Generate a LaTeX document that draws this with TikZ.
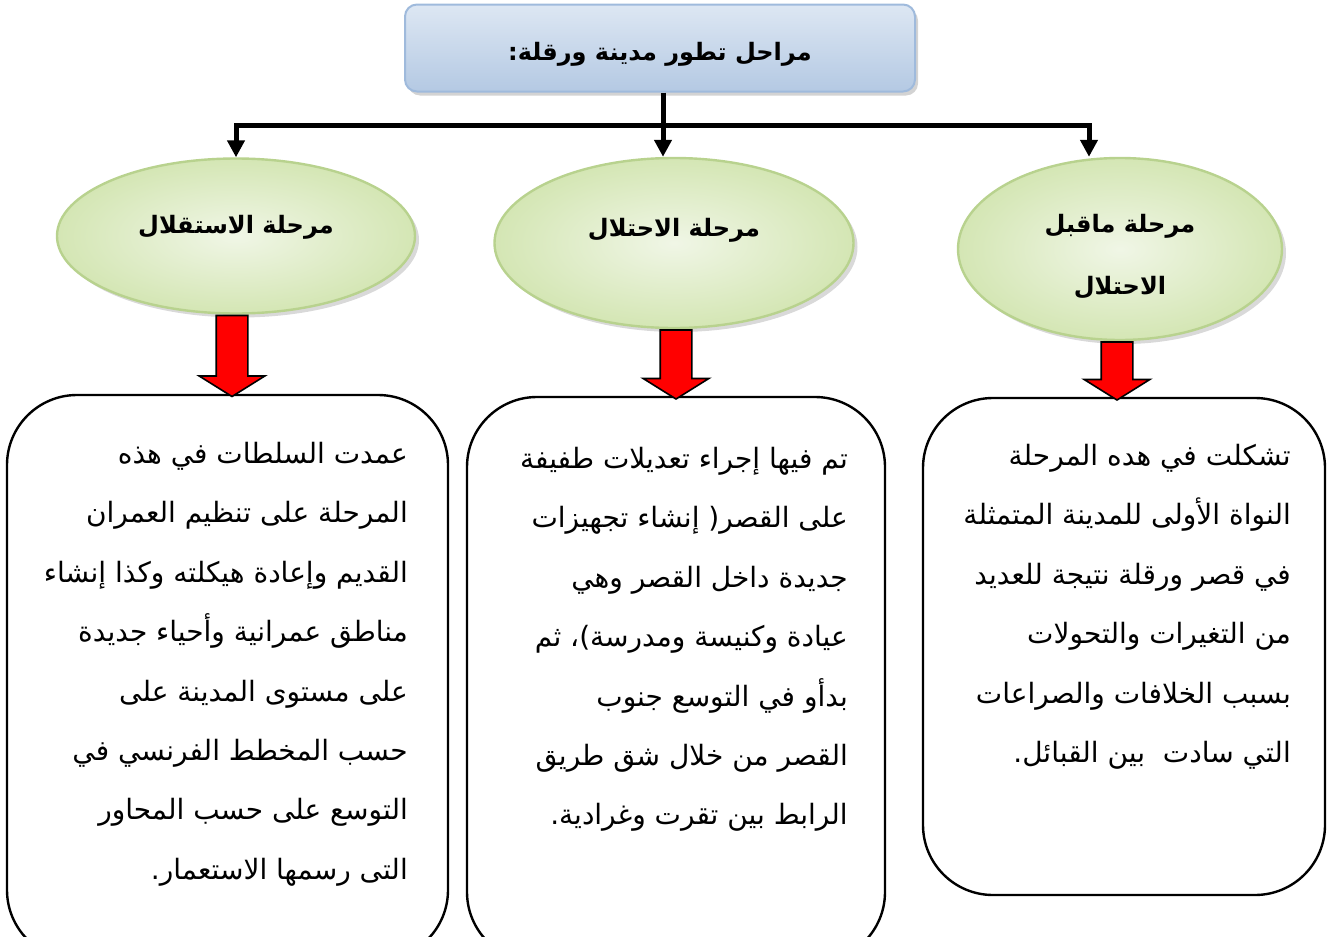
\documentclass[tikz,border=0pt]{standalone}
\usepackage{fontspec}
\newfontfamily\arabicfont[Script=Arabic]{DejaVu Sans}
\TeXXeTstate=1
\usepackage{tikz}
\usetikzlibrary{calc}
\usetikzlibrary{arrows.meta}
\usetikzlibrary{positioning}
\usetikzlibrary{shapes.geometric}
\usetikzlibrary{shapes.arrows}
\usetikzlibrary{shadows}
\definecolor{titletop}{HTML}{DDE7F3}
\definecolor{titlebot}{HTML}{B4C9E3}
\definecolor{titleline}{HTML}{9FBADC}
\definecolor{phasein}{HTML}{F0F6E6}
\definecolor{phaseout}{HTML}{D4E6B4}
\definecolor{phaseline}{HTML}{B8D28E}
\newcommand{\rl}[1]{\beginR #1\endR}
\newcommand{\up}[2]{\raisebox{#1}[0pt][0pt]{#2}}
\tikzset{%
  myedge/.style={-{Triangle[width=8.5pt, length=8.5pt]}, line width=2.5pt},
  mytitle/.style={rounded corners=6pt, draw=titleline, line width=1pt,
    top color=titletop, bottom color=titlebot,
    minimum width=255pt, minimum height=43.5pt,
    drop shadow={opacity=0.35, shadow xshift=1.5pt, shadow yshift=-2pt},
    font=\arabicfont\bfseries\fontsize{12}{15}\selectfont},
  myphase/.style={ellipse, draw=phaseline, line width=1.2pt,
    inner color=phasein, outer color=phaseout, align=center,
    drop shadow={opacity=0.3, shadow xshift=2pt, shadow yshift=-2pt},
    font=\arabicfont\bfseries\fontsize{12}{31}\selectfont},
  mybox/.style={draw=black, line width=1.2pt, rounded corners=35pt},
  mytext/.style={align=right, inner sep=0pt,
    font=\arabicfont\fontsize{14}{29.7}\selectfont},
  myredarrow/.style={single arrow, draw=black, fill=red, line width=0.8pt,
    shape border rotate=270, inner xsep=7.5pt, inner ysep=0pt, anchor=tail,
    single arrow head extend=8.5pt, single arrow tip angle=116}
}

\begin{document}
\begin{tikzpicture}[x=0.5pt, y=-0.5pt]
  \clip (0,0) rectangle (1328,937);
  % title and the three phases
  \node[mytitle] (t) at (660,48) {\up{-6pt}{\beginR مراحل تطور مدينة ورقلة:\endR}};
  \node[myphase, minimum width=179pt, minimum height=77.5pt] (p1) at (236,236) {\up{1.5pt}{\beginR مرحلة الاستقلال\endR}};
  \node[myphase, minimum width=179.5pt, minimum height=85pt] (p2) at (674,243) {\up{3.5pt}{\beginR مرحلة الاحتلال\endR}};
  \node[myphase, minimum width=162pt, minimum height=91pt] (p3) at (1120,249) {\up{-7pt}{\beginR مرحلة ماقبل\endR}\\\up{-7pt}{\beginR الاحتلال\endR}};
  % text boxes
  \node[mybox, minimum width=220.5pt, minimum height=282.5pt] (b1) at (227.5,677.5) {};
  \node[mybox, minimum width=209pt, minimum height=282.5pt] (b2) at (676,679.5) {};
  \node[mybox, minimum width=201pt, minimum height=248.5pt] (b3) at (1124,646.5) {};
  \node[mytext, below left=24pt and 20.5pt of b1.north east] (x1) {%
    \rl{عمدت السلطات في هذه}\\
    \rl{المرحلة على تنظيم العمران}\\
    \rl{القديم وإعادة هيكلته وكذا إنشاء}\\
    \rl{مناطق عمرانية وأحياء جديدة}\\
    \rl{على مستوى المدينة على}\\
    \rl{حسب المخطط الفرنسي في}\\
    \rl{التوسع على حسب المحاور}\\
    \rl{التى رسمها الاستعمار.}};
  \node[mytext, below left=25.5pt and 19pt of b2.north east] (x2) {%
    \rl{تم فيها إجراء تعديلات طفيفة}\\
    \rl{على القصر( إنشاء تجهيزات}\\
    \rl{جديدة داخل القصر وهي}\\
    \rl{عيادة وكنيسة ومدرسة)، ثم}\\
    \rl{بدأو في التوسع جنوب}\\
    \rl{القصر من خلال شق طريق}\\
    \rl{الرابط بين تقرت وغرادية.}};
  \node[mytext, below left=23.5pt and 17.5pt of b3.north east] (x3) {%
    \rl{تشكلت في هده المرحلة}\\
    \rl{النواة الأولى للمدينة المتمثلة}\\
    \rl{في قصر ورقلة نتيجة للعديد}\\
    \rl{من التغيرات والتحولات}\\
    \rl{بسبب الخلافات والصراعات}\\
    \rl{التي سادت\ \ بين القبائل.}};
  % black connectors
  \coordinate (J) at ($(t.south)+(3,33)$);
  \coordinate (R) at ($(p3.north)+(-31,0)$);
  \draw[myedge] (t.south -| J) -- (J |- p2.north);
  \draw[myedge] (J) -| (p1.north);
  \draw[myedge] (J) -| (R);
  % red arrows
  \node[myredarrow, minimum height=40.5pt] (a1) at ($(p1.south)+(-4,0)$) {};
  \node[myredarrow, minimum height=34.5pt] (a2) at ($(p2.south)+(2,0)$) {};
  \node[myredarrow, minimum height=29pt] (a3) at ($(p3.south)+(-3,0)$) {};
\end{tikzpicture}
\end{document}
